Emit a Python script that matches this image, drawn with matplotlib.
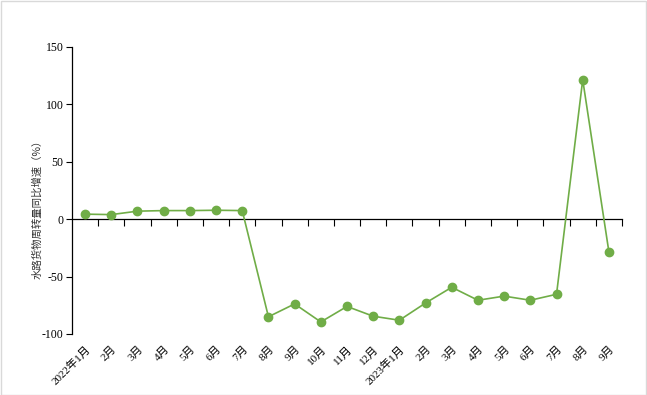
import matplotlib
matplotlib.use("Agg")
import matplotlib.pyplot as plt
from matplotlib.patches import Rectangle

plt.rcParams['font.family'] = ['Liberation Serif', 'Noto Sans CJK SC', 'DejaVu Sans']

months = ["2022年1月", "2月", "3月", "4月", "5月", "6月", "7月", "8月", "9月", "10月", "11月", "12月",
          "2023年1月", "2月", "3月", "4月", "5月", "6月", "7月", "8月", "9月"]
growth = [4.4, 4.0, 7.0, 7.5, 7.5, 7.8, 7.5, -85.0, -73.8, -89.5, -76.0, -84.5,
          -88.0, -73.0, -59.3, -70.6, -67.0, -70.6, -65.4, 121.5, -28.5]
yticks = [-100, -50, 0, 50, 100, 150]
ylabel = "水路货物周转量同比增速（%）"

fig = plt.figure(figsize=(6.47, 3.95), dpi=100)
ax = fig.add_axes([72/647, 1-334/395, 550/647, 287/395])

x = list(range(len(months)))
ax.plot(x, growth, color="#70AD47", lw=1.2, marker="o", ms=6, mec="#70AD47", mfc="#70AD47", zorder=3)

ax.set_xlim(-0.5, len(months) - 0.5)
ax.set_ylim(-100, 150)
ax.set_yticks(yticks)
ax.set_yticklabels([str(v) for v in yticks], fontsize=8.5)
ax.tick_params(axis='y', direction='out', length=4, width=0.8, pad=2)

for s in ["top", "right", "bottom"]:
    ax.spines[s].set_visible(False)
ax.spines["left"].set_linewidth(0.9)

# category labels at bottom
ax.set_xticks(x)
ax.set_xticklabels(months, rotation=45, ha='right', rotation_mode='anchor', fontsize=8)
ax.tick_params(axis='x', length=0, pad=7)

# zero axis line with boundary ticks
sec = ax.secondary_xaxis(100/250)
sec.set_xticks([i - 0.5 for i in range(1, len(months) + 1)])
sec.set_xticklabels([])
sec.tick_params(axis='x', direction='out', length=5, width=0.8)
sec.spines['bottom'].set_linewidth(0.9)

ax.set_ylabel(ylabel, fontsize=7.5, family=['Noto Sans CJK SC', 'DejaVu Sans'], color="#333333")
ax.yaxis.set_label_coords(-30/550, 0.443)

fig.patches.append(Rectangle((0.5/647, 0.5/395), 1 - 1.5/647, 1 - 1.5/395, transform=fig.transFigure,
                             fill=False, ec="#d9d9d9", lw=1))

fig.savefig("out.png", dpi=100)
